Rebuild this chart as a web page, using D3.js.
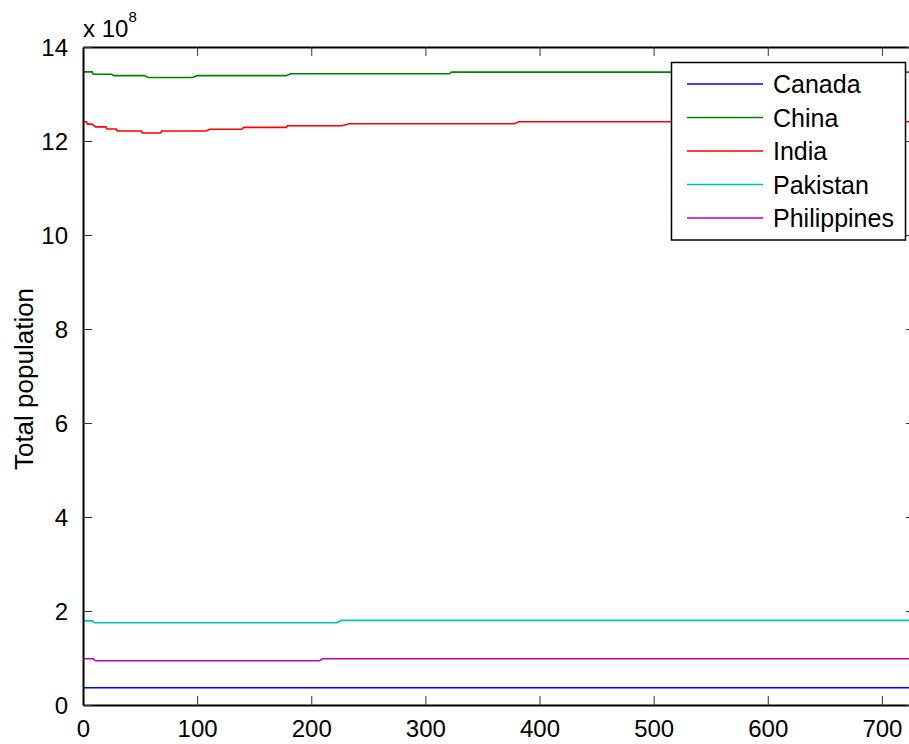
<!DOCTYPE html>
<html>
<head>
<meta charset="utf-8">
<script src="https://cdn.jsdelivr.net/npm/d3@7"></script>
<style>
  body { margin: 0; background: #fff; }
  svg { display: block; font-family: "Liberation Sans", Arial, sans-serif; }
</style>
</head>
<body>
<div id="display"></div>
<script>
// countries shown in the legend, in order
const countries = ['Canada', 'China', 'India', 'Pakistan', 'Philippines'];

// population breakpoints: [x, population in units of 1e8]
const canada = [[0, 0.368], [729, 0.368]];
const china = [
    [0, 13.47], [8, 13.47], [9, 13.42], [25, 13.42], [27, 13.39], [54, 13.39],
    [57, 13.35], [96, 13.35], [100, 13.39], [178, 13.39], [182, 13.43], [321, 13.43],
    [323, 13.465], [729, 13.465]
];
const india = [
    [0, 12.41], [3, 12.41], [4, 12.36], [8, 12.36], [11, 12.30], [20, 12.30],
    [21, 12.255], [29, 12.255], [30, 12.213], [51, 12.213], [52, 12.17], [68, 12.17],
    [69, 12.213], [108, 12.213], [111, 12.25], [139, 12.25], [141, 12.29], [178, 12.29],
    [179, 12.326], [227, 12.326], [233, 12.368], [378, 12.368], [382, 12.41], [729, 12.41]
];
const pakistan = [[0, 1.79], [8, 1.79], [10, 1.75], [223, 1.75], [226, 1.80], [729, 1.80]];
const philippines = [[0, 0.985], [9, 0.985], [11, 0.94], [207, 0.94], [210, 0.985], [729, 0.985]];

const seriesData = [canada, china, india, pakistan, philippines];
const colors = ['#0000ff', '#008000', '#ff0000', '#00bfbf', '#bf00bf'];

const xTicks = [0, 100, 200, 300, 400, 500, 600, 700];
const yTicks = [0, 2, 4, 6, 8, 10, 12, 14];

const width = 909;
const height = 744;
const margin = { left: 83, top: 47, right: 915, bottom: 705 };

const svg = d3.select('#display').append('svg')
    .attr('width', width)
    .attr('height', height);

const x = d3.scaleLinear().domain([0, 729]).range([margin.left, margin.right]);
const y = d3.scaleLinear().domain([0, 14]).range([margin.bottom, margin.top]);

svg.append('clipPath').attr('id', 'plot-clip')
    .append('rect')
    .attr('x', margin.left).attr('y', margin.top)
    .attr('width', margin.right - margin.left).attr('height', margin.bottom - margin.top);

// data lines
const line = d3.line()
    .x(function (d) { return x(d[0]); })
    .y(function (d) { return y(d[1]); });

svg.append('g').attr('clip-path', 'url(#plot-clip)')
    .selectAll('path')
    .data(seriesData)
    .enter()
    .append('path')
    .attr('d', line)
    .attr('fill', 'none')
    .attr('stroke', function (d, i) { return colors[i]; })
    .attr('stroke-width', 1.6);

// axes, ticks pointing inward on all four sides
function styleAxis(g) {
    g.selectAll('.domain').attr('stroke', '#000').attr('stroke-width', 2);
    g.selectAll('.tick line').attr('stroke', '#333').attr('stroke-width', 1);
    g.selectAll('.tick text').attr('fill', '#000').attr('font-size', 24)
        .attr('font-family', '"Liberation Sans", Arial, sans-serif');
}

svg.append('g')
    .attr('transform', 'translate(0,' + margin.bottom + ')')
    .call(d3.axisBottom(x).tickValues(xTicks).tickSizeInner(-9).tickSizeOuter(0).tickPadding(10))
    .call(styleAxis)
    .selectAll('.tick text').attr('dy', null).attr('y', 32);

svg.append('g')
    .attr('transform', 'translate(0,' + margin.top + ')')
    .call(d3.axisTop(x).tickValues(xTicks).tickSizeInner(-9).tickSizeOuter(0).tickFormat(''))
    .call(styleAxis);

svg.append('g')
    .attr('transform', 'translate(' + margin.left + ',0)')
    .call(d3.axisLeft(y).tickValues(yTicks).tickSizeInner(-9).tickSizeOuter(0).tickPadding(15).tickFormat(d3.format('d')))
    .call(styleAxis)
    .selectAll('.tick text').attr('dy', '0.36em');

svg.append('g')
    .attr('transform', 'translate(' + margin.right + ',0)')
    .call(d3.axisRight(y).tickValues(yTicks).tickSizeInner(-9).tickSizeOuter(0).tickFormat(''))
    .call(styleAxis);

// exponent label above the y axis
const expo = svg.append('text')
    .attr('x', 83)
    .attr('y', 37)
    .attr('font-size', 24)
    .attr('fill', '#000');
expo.append('tspan').text('x 10');
expo.append('tspan').attr('font-size', 15).attr('dy', -15).text('8');

// y axis title
svg.append('text')
    .attr('transform', 'translate(33,379) rotate(-90)')
    .attr('text-anchor', 'middle')
    .attr('font-size', 26)
    .attr('fill', '#000')
    .text('Total population');

// legend
const legend = svg.append('g');
legend.append('rect')
    .attr('x', 671.5).attr('y', 62.5)
    .attr('width', 234).attr('height', 177.5)
    .attr('fill', '#fff')
    .attr('stroke', '#000')
    .attr('stroke-width', 1.5);

const rows = legend.selectAll('g.row')
    .data(countries)
    .enter()
    .append('g')
    .attr('class', 'row')
    .attr('transform', function (d, i) { return 'translate(0,' + (84 + i * 33.5) + ')'; });

rows.append('line')
    .attr('x1', 687).attr('x2', 763)
    .attr('stroke', function (d, i) { return colors[i]; })
    .attr('stroke-width', 1.5);

rows.append('text')
    .attr('x', 773)
    .attr('dy', '0.36em')
    .attr('font-size', 25)
    .attr('fill', '#000')
    .text(function (d) { return d; });
</script>
</body>
</html>
